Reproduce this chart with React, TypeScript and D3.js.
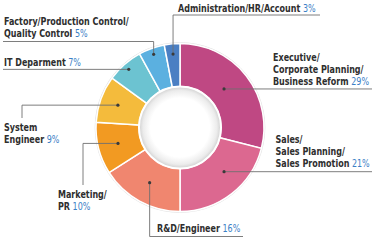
import React from "react";
import * as d3 from "d3";

// ---- data ----
const categories = [
  "Executive/|Corporate Planning/|Business Reform",
  "Sales/|Sales Planning/|Sales Promotion",
  "R&D/Engineer",
  "Marketing/|PR",
  "System|Engineer",
  "IT Deparment",
  "Factory/Production Control/|Quality Control",
  "Administration/HR/Account",
];
const values = [29, 21, 16, 10, 9, 7, 5, 3];
const colors = ["#bf4883", "#dc6890", "#f0866f", "#f29a22", "#f4bb3c", "#6cc3d1", "#5bb0e0", "#4b7fc3"];

// ---- layout ----
const W = 375, H = 240;
const CX = 180, CY = 127.5, R_OUT = 84, R_IN = 41;
const FONT = "'Liberation Sans Narrow', 'DejaVu Sans Condensed', 'Arial Narrow', sans-serif";
const SX = 0.81;

type Pt = [number, number];
type Layout = {
  x: number;
  baselines: number[];
  dotR: number;
  dAngle: number; // degrees
  route: (d: Pt) => Pt[];
};

const layouts: Layout[] = [
  { x: 273, baselines: [61, 73, 85], dotR: 58.5, dAngle: -3.4, route: (d) => [d, [372, d[1]]] },
  { x: 275.5, baselines: [142.5, 154.5, 166.5], dotR: 62.4, dAngle: -7.1, route: (d) => [d, [372, d[1]]] },
  { x: 157, baselines: [231.5], dotR: 63, dAngle: 0, route: (d) => [d, [d[0], 236.5], [243, 236.5]] },
  { x: 58, baselines: [198, 210], dotR: 64, dAngle: 0, route: (d) => [d, [83, d[1]], [83, 185]] },
  { x: 4, baselines: [131, 143], dotR: 66, dAngle: 0, route: (d) => [d, [22, d[1]], [22, 118]] },
  { x: 4, baselines: [66], dotR: 77.5, dAngle: 0, route: (d) => [d, [3, d[1]]] },
  { x: 4, baselines: [24.5, 36.5], dotR: 77.8, dAngle: 0, route: (d) => [d, [d[0], 41.5], [3, 41.5]] },
  { x: 178, baselines: [11.5], dotR: 73.8, dAngle: 0, route: (d) => [d, [d[0], 15], [320, 15]] },
];

export default function App() {
  const pie = d3
    .pie<number>()
    .sort(null)
    .value((v) => v)
    .startAngle(0)
    .endAngle(2 * Math.PI);
  const arcs = pie(values);
  const arc = d3.arc<d3.PieArcDatum<number>>().innerRadius(R_IN).outerRadius(R_OUT);
  const line = d3.line();

  return (
    <svg width={W} height={H} style={{ position: "absolute", left: 0, top: 0, background: "#fff" }}>
      <defs>
        <radialGradient id="hole" cx="50%" cy="50%" r="50%">
          <stop offset="0%" stopColor="#ffffff" />
          <stop offset="72%" stopColor="#ffffff" />
          <stop offset="90%" stopColor="#ececec" />
          <stop offset="100%" stopColor="#cfcfcf" />
        </radialGradient>
      </defs>
      <circle cx={CX} cy={CY} r={R_OUT + 0.8} fill="none" stroke="#e2e2e2" strokeWidth={1} />
      <g transform={`translate(${CX},${CY})`}>
        {arcs.map((a, i) => (
          <path key={i} d={arc(a) || ""} fill={colors[i]} stroke="#fff" strokeWidth={1.5} />
        ))}
        <circle r={R_IN} fill="url(#hole)" stroke="#fff" strokeWidth={2} />
      </g>
      {arcs.map((a, i) => {
        const L = layouts[i];
        const ang = (a.startAngle + a.endAngle) / 2 + (L.dAngle * Math.PI) / 180;
        const dot: Pt = [CX + L.dotR * Math.sin(ang), CY - L.dotR * Math.cos(ang)];
        const pts = L.route(dot);
        return (
          <g key={"l" + i}>
            <path d={line(pts) || ""} fill="none" stroke="#6f6f6f" strokeWidth={0.9} />
            <circle cx={dot[0]} cy={dot[1]} r={1.6} fill="#3a3a3a" />
          </g>
        );
      })}
      {categories.map((c, i) => {
        const L = layouts[i];
        const lines = c.split("|");
        return (
          <g key={"t" + i} fontFamily={FONT} fontSize={11} fontWeight="bold" fill="#2e2e2e">
            {lines.map((ln, j) => (
              <text key={j} transform={`translate(${L.x},${L.baselines[j]}) scale(${SX},1)`}>
                {ln}
                {j === lines.length - 1 ? (
                  <tspan fill="#3b80c6" fontWeight="normal">{" " + values[i] + "%"}</tspan>
                ) : null}
              </text>
            ))}
          </g>
        );
      })}
    </svg>
  );
}
